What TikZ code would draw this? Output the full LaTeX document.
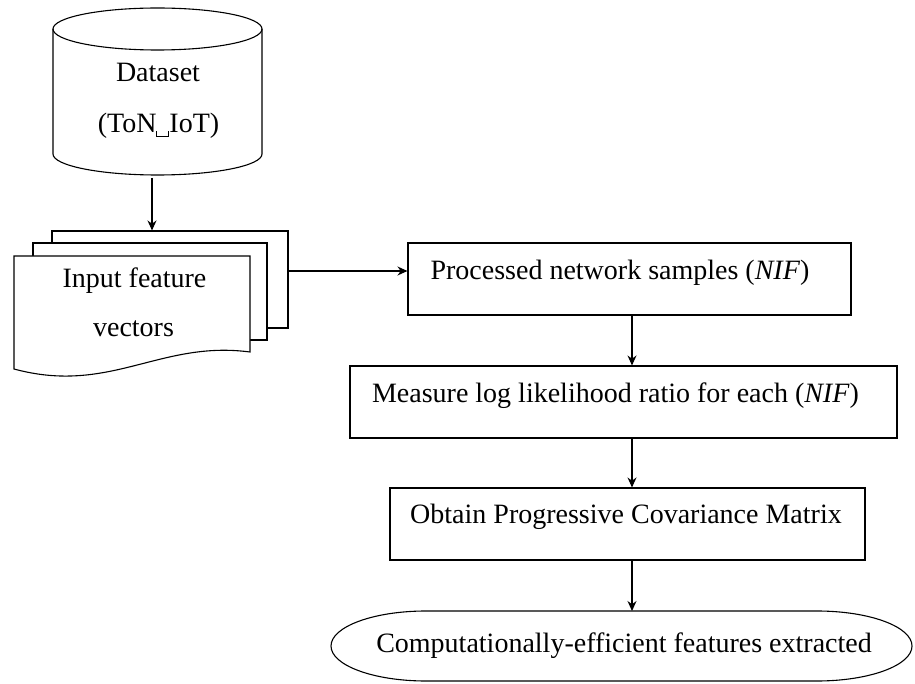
\documentclass[tikz,border=0pt]{standalone}
\usepackage{fontspec}
\setmainfont{Liberation Serif}
\usetikzlibrary{arrows.meta,calc}
\newcommand{\vismark}{\raisebox{-4pt}{\rule{1pt}{6pt}\rule{11pt}{1pt}\rule{1pt}{6pt}}}
\begin{document}
\begin{tikzpicture}[x=1pt,y=-1pt,line width=1.1pt,
  lbl/.style={anchor=base,inner sep=0pt,font=\fontsize{28}{48}\selectfont},
  arr/.style={-{Stealth[length=10pt,width=9pt]},line width=1.1pt},
  box/.style={draw,fill=white,inner sep=0pt,line width=1.1pt}]
\useasboundingbox (0,0) rectangle (915,684);
% cylinder
\draw[fill=white] (53,29) -- (53,154) arc[start angle=180,end angle=360,x radius=104.5pt,y radius=21pt] -- (262,29);
\draw (157.5,29) ellipse[x radius=104.5pt,y radius=21pt];
\coordinate (dsb) at (152,178);
\node[lbl] (ds1) at (158,82) {Dataset};
\node[lbl] (ds2) at (158.5,133) {(ToN\vismark IoT)};
% document stack
\node[box,minimum width=236pt,minimum height=97pt] (doc3) at (170,279.5) {};
\node[box,minimum width=234pt,minimum height=97pt] (doc2) at (150,291.5) {};
\draw[fill=white] (14,256) -- (250,256) -- (250,352) .. controls (160,340) and (110,395) .. (14,369) -- cycle;
\node[lbl] (in1) at (134.5,288) {Input feature};
\node[lbl] (in2) at (133.5,337) {vectors};
% boxes
\node[box,minimum width=443pt,minimum height=72pt] (proc) at (629.5,279) {};
\node[lbl] (proct) at (620,280) {Processed network samples (\textit{NIF})};
\node[box,minimum width=547pt,minimum height=72pt] (meas) at (623.5,402) {};
\node[lbl] (meast) at (615.5,402) {Measure log likelihood ratio for each (\textit{NIF})};
\node[box,minimum width=475pt,minimum height=72pt] (obt) at (627.5,524) {};
\node[lbl] (obtt) at (626,523) {Obtain Progressive Covariance Matrix};
% terminator
\draw (426,611) -- (817,611) arc[start angle=90,end angle=-90,x radius=95pt,y radius=35pt] -- (426,681) arc[start angle=270,end angle=90,x radius=95pt,y radius=35pt] -- cycle;
\coordinate (ovtop) at (632,611);
\node[lbl] (ovt) at (624,652) {Computationally-efficient features extracted};
% connectors
\coordinate (ax) at (632,0);
\coordinate (ay) at (0,271);
\draw[arr] (dsb) -- (dsb |- doc3.north);
\draw[arr] (doc3.east |- ay) -- (proc.west |- ay);
\draw[arr] (proc.south -| ax) -- (meas.north -| ax);
\draw[arr] (meas.south -| ax) -- (obt.north -| ax);
\draw[arr] (obt.south -| ax) -- (ovtop);
\end{tikzpicture}
\end{document}
